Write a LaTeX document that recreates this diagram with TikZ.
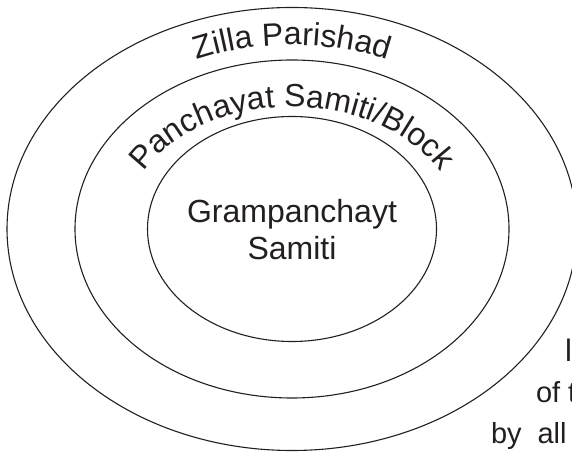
\documentclass[tikz,border=0pt]{standalone}
\usepackage{fontspec}
\setmainfont{Liberation Sans}
\usetikzlibrary{decorations.text}
\definecolor{ink}{HTML}{231F20}
\newcommand\zpfont{\fontsize{32}{38}\selectfont}
\newcommand\pbfont{\fontsize{32}{38}\selectfont}
\begin{document}
\begin{tikzpicture}[x=1pt,y=1pt,
  ring/.style={draw=ink, line width=1.1pt},
  lbl/.style={text=ink, inner sep=0pt, outer sep=0pt}]
\useasboundingbox (0,0) rectangle (572,452);
\clip (0,0) rectangle (572,452);
\coordinate (c) at (292,223);
% rings
\draw[ring] (c) ellipse [x radius=285pt, y radius=221.5pt];
\draw[ring] (c) ellipse [x radius=217pt, y radius=169pt];
\draw[ring] (c) ellipse [x radius=144.5pt, y radius=112.5pt];
% curved labels
\path[decorate, decoration={text along path, text align=center,
  text={|\zpfont\color{ink}|Zilla Parishad}}]
  (52,223) arc[start angle=180, end angle=0, x radius=240pt, y radius=184pt];
\path[decorate, decoration={text along path, text align=center,
  text={|\pbfont\color{ink}|Panchayat Samiti/Block}}]
  (124,223) arc[start angle=180, end angle=0, x radius=168pt, y radius=122pt];
% centre label
\node[lbl, anchor=base, font=\pbfont] (g1) at (292,229) {Grampanchayt};
\node[lbl, anchor=base, font=\pbfont] (g2) at (292,192) {Samiti};
% cut-off text on the right
\node[lbl, anchor=base west, font=\fontsize{31}{36}\selectfont] (r1) at (565,90) {l};
\node[lbl, anchor=base west, font=\fontsize{29}{34}\selectfont] (r2) at (536,49) {of t};
\node[lbl, anchor=base west, font=\fontsize{29}{34}\selectfont] (r3) at (491,9) {by\hspace{16pt}all};
\end{tikzpicture}
\end{document}
